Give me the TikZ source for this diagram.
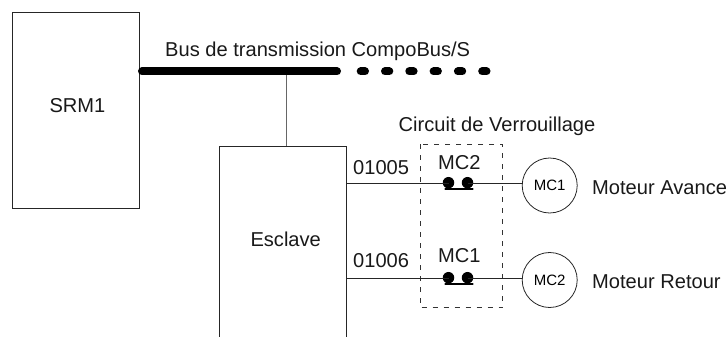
\documentclass[tikz,border=0pt]{standalone}
\usepackage{fontspec}
\setmainfont{Liberation Sans}
\tikzset{
  wire/.style={line width=0.9pt,draw=black!85},
  boxn/.style={draw=black!85,line width=0.9pt,fill=none,inner sep=0pt,outer sep=0pt,minimum width=#1},
  lab/.style={font=\fontsize{20.1}{22}\selectfont,inner sep=0pt,text=black!90},
  motor/.style={circle,draw=black!85,line width=0.8pt,minimum size=55pt,inner sep=0pt,outer sep=0pt,font=\fontsize{15}{17}\selectfont},
  contactdot/.style={circle,fill=black,minimum size=11.5pt,inner sep=0pt,outer sep=0pt},
  busline/.style={line width=8pt,line cap=round},
  contactbar/.style={line width=2.6pt,line cap=round,line join=round},
  frame/.style={draw=black!80,line width=0.8pt,dash pattern=on 5pt off 6pt},
}
\begin{document}
\begin{tikzpicture}[x=1pt,y=-1pt]
\clip (0,0) rectangle (728,337);
\useasboundingbox (0,0) rectangle (728,337);
\node[boxn=126.5pt,minimum height=196pt,anchor=north west] (srm) at (12.5,12) {};
\node[boxn=127pt,minimum height=200pt,anchor=north west] (escl) at (219,146) {};
\node[lab,anchor=base] (srmlab) at (77.5,112) {SRM1};
\node[lab,anchor=base] (esclab) at (285.7,246) {Esclave};
% tap then bus
\coordinate (tap) at (286,71.5);
\draw[wire,draw=black!60] (tap) -- (tap |- escl.north);
\coordinate (busA) at (142,71.5);
\coordinate (busB) at (337,71.5);
\draw[busline] (busA) -- (busB);
\foreach \cx in {360.7,385,409.3,433.6,457.9,482.2}{
  \draw[busline] (\cx,71.5) -- ++(4.3,0);
}
\node[lab,anchor=base west] (buslab) at (165,57) {Bus de transmission CompoBus/S};
% frame
\node[lab,anchor=base west] (circlab) at (398.5,131) {Circuit de Verrouillage};
\draw[frame] (420,144) rectangle (502.5,307.5);
% motors
\node[motor] (m1) at (549.7,185.5) {MC1};
\node[motor] (m2) at (549.7,280) {MC2};
% contacts
\node[contactdot] (c1a) at (448.5,182.7) {};
\node[contactdot] (c1b) at (467.5,182.7) {};
\node[contactdot] (c2a) at (448.5,277.7) {};
\node[contactdot] (c2b) at (467.5,277.7) {};
\coordinate (e1) at (escl.east |- 0,183);
\coordinate (e2) at (escl.east |- 0,278);
\draw[wire] (e1) -- (e1 -| c1a);
\draw[wire] (e1 -| c1b) -- (m1.west |- e1);
\draw[wire] (e2) -- (e2 -| c2a);
\draw[wire] (e2 -| c2b) -- (m2.west |- e2);
\draw[contactbar] (445.5,189) -- (472.5,189);
\draw[contactbar] (445.5,284) -- (472.5,284);
% labels
\node[lab,anchor=base west] (l1) at (353,174) {01005};
\node[lab,anchor=base west] (l2) at (353,267.5) {01006};
\node[lab,anchor=base west] (l3) at (438,169) {MC2};
\node[lab,anchor=base west] (l4) at (438,262.5) {MC1};
\node[lab,anchor=base west] (l5) at (592,194.5) {Moteur Avance};
\node[lab,anchor=base west] (l6) at (592,288) {Moteur Retour};
\end{tikzpicture}
\end{document}
